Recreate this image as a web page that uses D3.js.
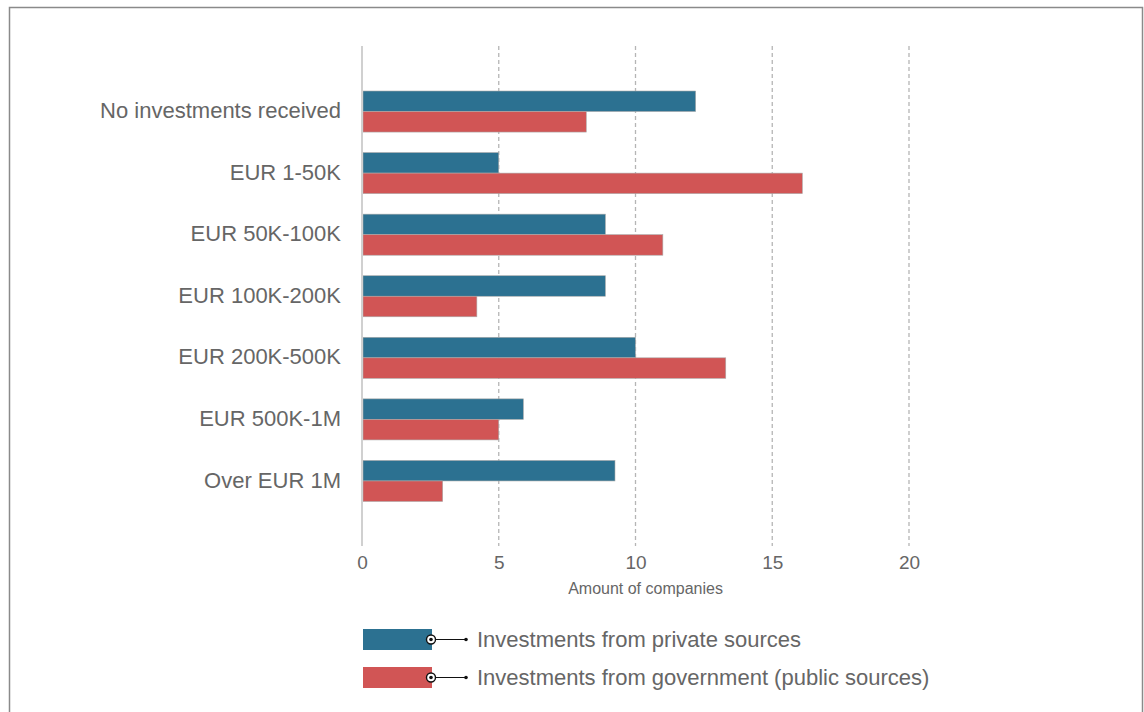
<!DOCTYPE html>
<html>
<head>
<meta charset="utf-8">
<script src="https://cdn.jsdelivr.net/npm/d3@7"></script>
<style>
  html, body { margin: 0; padding: 0; background: #fff; }
  svg { display: block; }
  text { font-family: "Liberation Sans", Arial, Helvetica, sans-serif; }
</style>
</head>
<body>
<svg id="chart" width="1144" height="712"></svg>
<script>
const categories = ["No investments received", "EUR 1-50K", "EUR 50K-100K", "EUR 100K-200K", "EUR 200K-500K", "EUR 500K-1M", "Over EUR 1M"];
const privateValues = [12.2, 5.0, 8.9, 8.9, 10.0, 5.9, 9.25];
const governmentValues = [8.2, 16.1, 11.0, 4.2, 13.3, 5.0, 2.95];
const seriesNames = ["Investments from private sources", "Investments from government (public sources)"];
const seriesColors = ["#2c7191", "#d15555"];
const xTicks = [0, 5, 10, 15, 20];
const axisTitle = "Amount of companies";

(function () {
const svg = d3.select("#chart");

// frame
svg.append("rect").attr("x", 9.5).attr("y", 7.5).attr("width", 1133).attr("height", 720)
  .attr("fill", "none").attr("stroke", "#8a8a8a").attr("stroke-width", 1.5);

const plotLeft = 362, plotTop = 46, plotBottom = 546;
const x = d3.scaleLinear().domain([0, 20]).range([plotLeft, plotLeft + 547]);
const y = d3.scaleBand().domain(categories).range([91, 501.5]).paddingInner(0.333).paddingOuter(0.0);
const sub = d3.scaleBand().domain([0, 1]).range([0, y.bandwidth()]);

// gridlines
svg.append("g").selectAll("line").data(xTicks.filter(d => d > 0)).join("line")
  .attr("x1", d => x(d)).attr("x2", d => x(d))
  .attr("y1", plotTop).attr("y2", plotBottom)
  .attr("stroke", "#b5b5b5").attr("stroke-width", 1.3).attr("stroke-dasharray", "4,3");

// axis
const xAxis = d3.axisBottom(x).tickValues(xTicks).tickSize(0).tickPadding(0);
const gx = svg.append("g").attr("transform", `translate(0,${plotBottom})`).call(xAxis);
gx.select(".domain").remove();
gx.selectAll("text").attr("dy", 0).attr("y", 23).attr("fill", "#666").attr("font-size", 19);

svg.append("text").attr("x", x(10) + 10).attr("y", 594).attr("text-anchor", "middle")
  .attr("fill", "#666").attr("font-size", 16).text(axisTitle);

// bars
const series = [privateValues, governmentValues];
series.forEach((vals, si) => {
  svg.append("g").selectAll("rect").data(categories).join("rect")
    .attr("x", x(0) + 1)
    .attr("y", d => y(d) + sub(si))
    .attr("width", (d, i) => x(vals[i]) - x(0) - 1)
    .attr("height", sub.bandwidth())
    .attr("fill", seriesColors[si])
    .attr("stroke", "#aaa").attr("stroke-width", 0.6);
});

// y axis line
svg.append("line").attr("x1", plotLeft).attr("x2", plotLeft).attr("y1", plotTop).attr("y2", plotBottom)
  .attr("stroke", "#d0d0d0").attr("stroke-width", 2);

// y labels
const yAxis = d3.axisLeft(y).tickSize(0).tickPadding(0);
const gy = svg.append("g").attr("transform", `translate(341,0)`).call(yAxis);
gy.select(".domain").remove();
gy.selectAll("text").attr("fill", "#666").attr("font-size", 22).attr("dy", "0.3em");

// legend
const legend = svg.append("g");
seriesNames.forEach((name, i) => {
  const cy = 639.5 + i * 38;
  const g = legend.append("g");
  g.append("rect").attr("x", 363).attr("y", cy - 10.5).attr("width", 69).attr("height", 21)
    .attr("fill", seriesColors[i]);
  g.append("line").attr("x1", 431).attr("x2", 466).attr("y1", cy).attr("y2", cy)
    .attr("stroke", "#111").attr("stroke-width", 1.2);
  g.append("circle").attr("cx", 431).attr("cy", cy).attr("r", 4.5)
    .attr("fill", "#fff").attr("stroke", "#111").attr("stroke-width", 1.4);
  g.append("circle").attr("cx", 431).attr("cy", cy).attr("r", 1.8).attr("fill", "#111");
  g.append("circle").attr("cx", 466).attr("cy", cy).attr("r", 1.8).attr("fill", "#111");
  g.append("text").attr("x", 477).attr("y", cy).attr("dy", "0.33em")
    .attr("fill", "#666").attr("font-size", 22).text(name);
});
})();
</script>
</body>
</html>
